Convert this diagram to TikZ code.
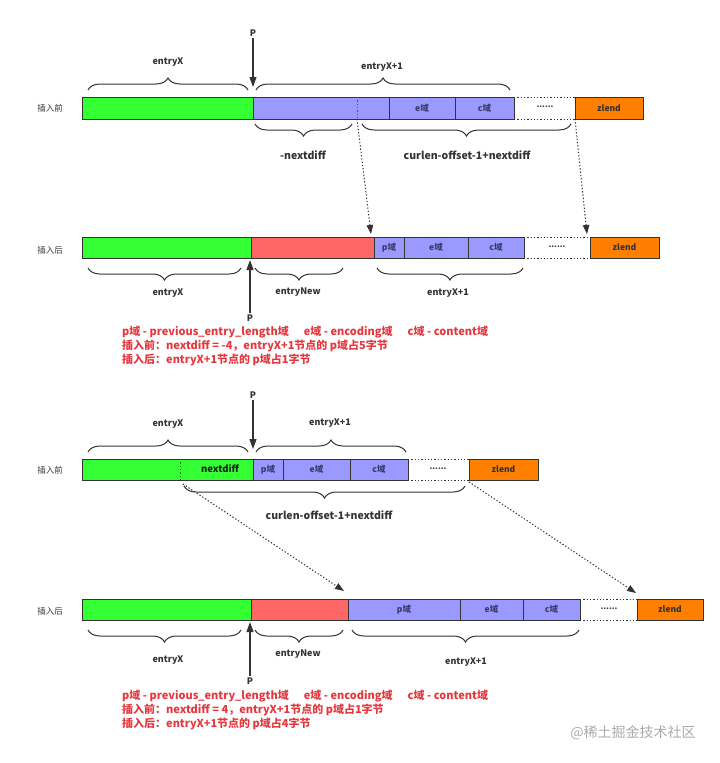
\documentclass[tikz,border=0pt]{standalone}
\usepackage{fontspec}
\setmainfont{Noto Sans CJK SC}
\usetikzlibrary{decorations.pathreplacing,arrows.meta}
\definecolor{cgreen}{HTML}{33FF33}
\definecolor{cblue}{HTML}{9999FF}
\definecolor{cred}{HTML}{FF6666}
\definecolor{corange}{HTML}{FF8000}
\definecolor{cline}{HTML}{333333}
\definecolor{ctext}{HTML}{333333}
\definecolor{cboxtext}{HTML}{3A3A6A}
\definecolor{cnote}{HTML}{E5383E}
\definecolor{cwater}{HTML}{AAAAAA}
\begin{document}
\begin{tikzpicture}[x=1pt,y=-1pt,
  cell/.style={draw=cline, line width=1pt, inner sep=0pt, outer sep=0pt,
    minimum height=21pt, anchor=north west,
    font=\fontsize{8.5}{8.5}\selectfont\bfseries, text=cboxtext},
  gcell/.style={cell, fill=cgreen},
  bcell/.style={cell, fill=cblue},
  rcell/.style={cell, fill=cred},
  zcell/.style={cell, fill=corange, text=ctext},
  dotline/.style={draw=cline, line width=1pt, dash pattern=on 1.3pt off 2pt},
  dotarrow/.style={dotline, -{Triangle[length=9pt,width=6.5pt]}},
  parrow/.style={draw=cline, line width=1.2pt, -{Triangle[length=10pt,width=7pt]}},
  brc/.style={draw=cline, line width=1pt, decorate,
    decoration={brace, amplitude=12pt, aspect=0.5}},
  lbl/.style={font=\fontsize{9}{9}\selectfont\bfseries, text=ctext, inner sep=1pt},
  biglbl/.style={font=\fontsize{10.5}{10.5}\selectfont\bfseries, text=ctext, inner sep=1pt},
  rowlbl/.style={font=\fontsize{8.5}{8.5}\selectfont, text=ctext, inner sep=1pt},
  plbl/.style={font=\fontsize{9}{9}\selectfont\bfseries, text=ctext, inner sep=1pt},
  dots/.style={font=\fontsize{8}{8}\selectfont\bfseries, text=ctext, inner sep=0pt},
  note/.style={font=\fontsize{11}{14}\selectfont\bfseries, text=cnote,
    align=left, anchor=north west, inner sep=0pt}
]
\useasboundingbox (0,0) rectangle (720,763);

% ================= Section 1: before insert (-nextdiff) =================
\node[rowlbl] (r1) at (50,108) {插入前};
\node[gcell, minimum width=171pt, minimum height=22pt] (g1) at (82,97) {};
\node[bcell, minimum width=136pt, minimum height=22pt] (b1a) at (253,97) {};
\node[bcell, minimum width=66pt, minimum height=22pt] (b1e) at (389,97) {e域};
\node[bcell, minimum width=59pt, minimum height=22pt] (b1c) at (455,97) {c域};
\node[zcell, minimum width=68pt, minimum height=22pt] (z1) at (575,97) {zlend};
\path[dotline] (b1c.north east) -- (z1.north west);
\path[dotline] (b1c.south east) -- (z1.south west);
\node[dots] (d1) at (545,107) {......};
\coordinate (v1t) at (357,97);
\coordinate (v1b) at (357,119);
\draw[draw=cblue!50!black, line width=1pt, dash pattern=on 1.3pt off 2pt] (v1t) -- (v1b);

\node[plbl] (P1) at (253,33) {P};
\coordinate (P1t) at (253,87);
\draw[parrow] (P1) -- (P1t);

\coordinate (br1a) at (88,90);  \coordinate (br1b) at (248,90);
\draw[brc] (br1a) -- (br1b);
\node[lbl] (l1a) at (168,62) {entryX};
\coordinate (br1c) at (256,90); \coordinate (br1d) at (510,90);
\draw[brc] (br1c) -- (br1d);
\node[lbl] (l1b) at (382,67) {entryX+1};
\coordinate (br1e) at (255,124); \coordinate (br1f) at (352,124);
\draw[brc] (br1f) -- (br1e);
\node[biglbl] (l1c) at (303,155) {-nextdiff};
\coordinate (br1g) at (362,124); \coordinate (br1h) at (571,124);
\draw[brc] (br1h) -- (br1g);
\node[biglbl] (l1d) at (467,155) {curlen-offset-1+nextdiff};

% ================= Section 2: after insert =================
\node[rowlbl] (r2) at (50,250) {插入后};
\node[gcell, minimum width=169pt] (g2) at (82,237) {};
\node[rcell, minimum width=123pt] (red2) at (251,237) {};
\node[bcell, minimum width=30pt] (p2) at (374,237) {p域};
\node[bcell, minimum width=64pt] (e2) at (404,237) {e域};
\node[bcell, minimum width=56pt] (c2) at (468,237) {c域};
\node[zcell, minimum width=69pt] (z2) at (590,237) {zlend};
\path[dotline] (c2.north east) -- (z2.north west);
\path[dotline] (c2.south east) -- (z2.south west);
\node[dots] (d2) at (557,247) {......};

\coordinate (a1e) at (371,234);
\draw[dotarrow] (v1b) -- (a1e);
\coordinate (a2s) at (575,119);
\coordinate (a2e) at (587,234);
\draw[dotarrow] (a2s) -- (a2e);

\coordinate (br2a) at (241,268); \coordinate (br2b) at (88,268);
\draw[brc] (br2a) -- (br2b);
\node[lbl] (l2a) at (168,293) {entryX};
\coordinate (br2c) at (343,268); \coordinate (br2d) at (255,268);
\draw[brc] (br2c) -- (br2d);
\node[lbl] (l2b) at (298,292) {entryNew};
\coordinate (br2e) at (523,268); \coordinate (br2f) at (377,268);
\draw[brc] (br2e) -- (br2f);
\node[lbl] (l2c) at (448,293) {entryX+1};

\node[plbl] (P2) at (250,318) {P};
\coordinate (P2t) at (250,260);
\draw[parrow] (P2) -- (P2t);

\node[note] (n1) at (122,326) {p域 - previous\_entry\_length域\hspace{15pt}e域 - encoding域\hspace{15pt}c域 - content域\\
插入前：nextdiff = -4，entryX+1节点的 p域占5字节\\
插入后：entryX+1节点的 p域占1字节};

% ================= Section 3: before insert (nextdiff) =================
\node[rowlbl] (r3) at (50,470) {插入前};
\node[gcell, minimum width=171pt] (g3) at (82,459) {};
\node[font=\fontsize{9.5}{9.5}\selectfont\bfseries, text=ctext!80!green!40!black] (nd) at (220,469) {nextdiff};
\coordinate (v3t) at (180,459);
\coordinate (v3b) at (180,480);
\draw[draw=green!45!black, line width=1pt, dash pattern=on 1.3pt off 2pt] (v3t) -- (v3b);
\node[bcell, minimum width=30pt] (p3) at (253,459) {p域};
\node[bcell, minimum width=67pt] (e3) at (283,459) {e域};
\node[bcell, minimum width=58pt] (c3) at (350,459) {c域};
\node[zcell, minimum width=69pt] (z3) at (469,459) {zlend};
\path[dotline] (c3.north east) -- (z3.north west);
\path[dotline] (c3.south east) -- (z3.south west);
\node[dots] (d3) at (438,469) {......};

\node[plbl] (P3) at (253,395) {P};
\coordinate (P3t) at (253,449);
\draw[parrow] (P3) -- (P3t);

\coordinate (br3a) at (88,452);  \coordinate (br3b) at (248,452);
\draw[brc] (br3a) -- (br3b);
\node[lbl] (l3a) at (168,424) {entryX};
\coordinate (br3c) at (256,452); \coordinate (br3d) at (406,452);
\draw[brc] (br3c) -- (br3d);
\node[lbl] (l3b) at (330,423) {entryX+1};
\coordinate (br3e) at (184,486); \coordinate (br3f) at (465,486);
\draw[brc] (br3f) -- (br3e);
\node[biglbl] (l3c) at (329,515) {curlen-offset-1+nextdiff};

% ================= Section 4: after insert =================
\node[rowlbl] (r4) at (50,611) {插入后};
\node[gcell, minimum width=169pt] (g4) at (82,599) {};
\node[rcell, minimum width=97pt] (red4) at (251,599) {};
\node[bcell, minimum width=112pt] (p4) at (348,599) {p域};
\node[bcell, minimum width=63pt] (e4) at (460,599) {e域};
\node[bcell, minimum width=57pt] (c4) at (523,599) {c域};
\node[zcell, minimum width=66pt] (z4) at (637,599) {zlend};
\path[dotline] (c4.north east) -- (z4.north west);
\path[dotline] (c4.south east) -- (z4.south west);
\node[dots] (d4) at (609,609) {......};

\coordinate (a3s) at (183,484);
\coordinate (a3e) at (344,591);
\draw[dotarrow] (a3s) -- (a3e);
\coordinate (a4s) at (469,482);
\coordinate (a4e) at (636,593);
\draw[dotarrow] (a4s) -- (a4e);

\coordinate (br4a) at (241,630); \coordinate (br4b) at (88,630);
\draw[brc] (br4a) -- (br4b);
\node[lbl] (l4a) at (168,660) {entryX};
\coordinate (br4c) at (343,630); \coordinate (br4d) at (255,630);
\draw[brc] (br4c) -- (br4d);
\node[lbl] (l4b) at (298,654) {entryNew};
\coordinate (br4e) at (579,630); \coordinate (br4f) at (352,630);
\draw[brc] (br4e) -- (br4f);
\node[lbl] (l4c) at (466,662) {entryX+1};

\node[plbl] (P4) at (250,681) {P};
\coordinate (P4t) at (250,622);
\draw[parrow] (P4) -- (P4t);

\node[note] (n2) at (122,690) {p域 - previous\_entry\_length域\hspace{15pt}e域 - encoding域\hspace{15pt}c域 - content域\\
插入前：nextdiff = 4，entryX+1节点的 p域占1字节\\
插入后：entryX+1节点的 p域占4字节};

\node[font=\fontsize{14}{14}\selectfont, text=cwater, inner sep=0pt] (wm) at (633,733) {@稀土掘金技术社区};
\end{tikzpicture}
\end{document}
